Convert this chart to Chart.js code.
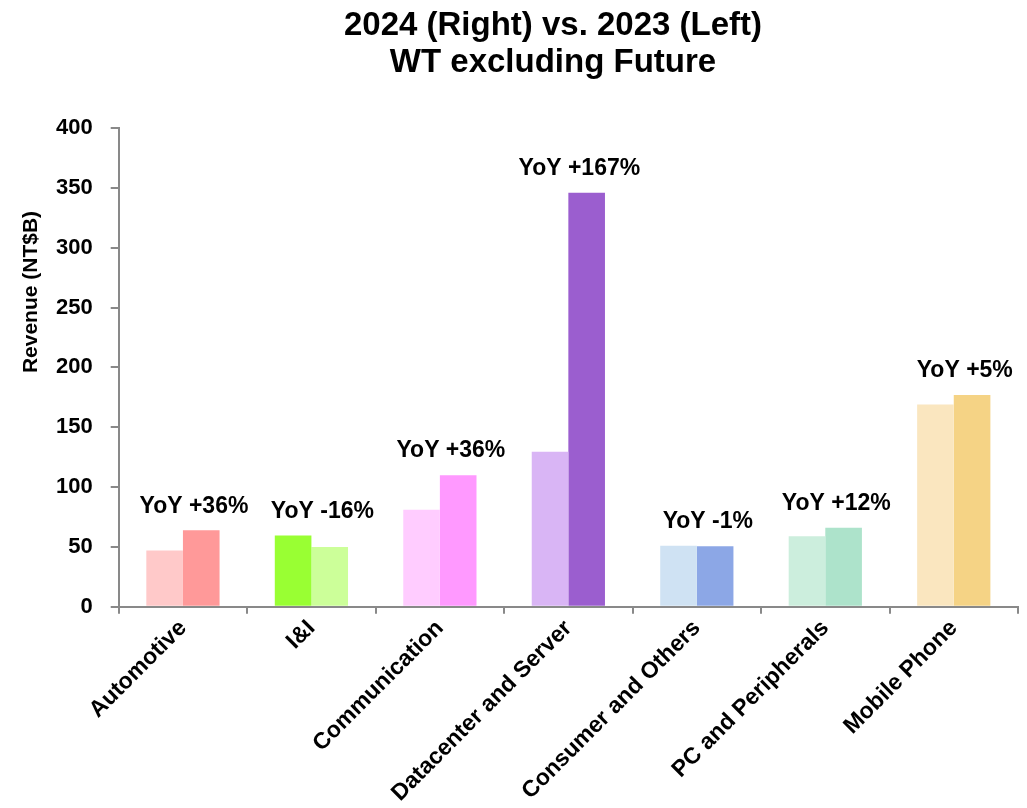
<!DOCTYPE html>
<html>
<head>
<meta charset="utf-8">
<script src="https://cdn.jsdelivr.net/npm/chart.js@4/dist/chart.umd.min.js"></script>
<style>
  body { margin: 0; background: #fff; }
  #wrap { width: 1027px; height: 808px; }
</style>
</head>
<body>
<div id="wrap"><canvas id="revenueChart"></canvas></div>
<script>
const categories = ['Automotive', 'I&I', 'Communication', 'Datacenter and Server',
    'Consumer and Others', 'PC and Peripherals', 'Mobile Phone'];
const revenue2023 = [47, 59.5, 81, 129.5, 51, 59, 169];
const revenue2024 = [64, 50, 110, 346, 50.6, 66, 177];
const yoyLabels = ['YoY +36%', 'YoY -16%', 'YoY +36%', 'YoY +167%', 'YoY -1%', 'YoY +12%', 'YoY +5%'];
const yTicks = [0, 50, 100, 150, 200, 250, 300, 350, 400];
const titleLines = ['2024 (Right) vs. 2023 (Left)', 'WT excluding Future'];
const yAxisTitle = 'Revenue (NT$B)';

// lighter shade = 2023 (left), stronger shade = 2024 (right)
const colors2023 = ['#ffc9c9', '#99ff33', '#ffccff', '#d9b5f5', '#cfe2f3', '#cceedd', '#fae6bf'];
const colors2024 = ['#ff9999', '#ccff99', '#ff99ff', '#9b5ecf', '#8ca7e6', '#ade3cb', '#f5d385'];

const FONT = "'Liberation Sans', Arial, sans-serif";
const AXIS_GREY = '#898989';

// YoY text above the taller bar of each pair
const yoyPlugin = {
    id: 'yoy',
    afterDatasetsDraw(chart) {
        const { ctx } = chart;
        const m0 = chart.getDatasetMeta(0);
        const m1 = chart.getDatasetMeta(1);
        const xScale = chart.scales.x;
        ctx.save();
        ctx.font = 'bold 23px ' + FONT;
        ctx.fillStyle = '#000';
        ctx.textAlign = 'center';
        ctx.textBaseline = 'middle';
        categories.forEach((c, i) => {
            const top = Math.min(m0.data[i].y, m1.data[i].y);
            const x = xScale.getPixelForValue(i) + 11;
            ctx.fillText(yoyLabels[i], x, top - 24);
        });
        ctx.restore();
    }
};

// two-line heading and the rotated y-axis caption
const headingPlugin = {
    id: 'heading',
    afterDraw(chart) {
        const { ctx } = chart;
        ctx.save();
        ctx.fillStyle = '#000';
        ctx.textAlign = 'center';
        ctx.textBaseline = 'middle';
        ctx.font = 'bold 33px ' + FONT;
        ctx.fillText(titleLines[0], 553, 26);
        ctx.fillText(titleLines[1], 553, 63);

        ctx.font = 'bold 21px ' + FONT;
        ctx.translate(31, 292);
        ctx.rotate(-Math.PI / 2);
        ctx.fillText(yAxisTitle, 0, 0);
        ctx.restore();
    }
};

const ctx = document.getElementById('revenueChart').getContext('2d');
new Chart(ctx, {
    type: 'bar',
    data: {
        labels: categories,
        datasets: [{
            label: '2023',
            data: revenue2023,
            backgroundColor: colors2023
        }, {
            label: '2024',
            data: revenue2024,
            backgroundColor: colors2024
        }]
    },
    options: {
        responsive: true,
        maintainAspectRatio: false,
        animation: false,
        categoryPercentage: 0.57,
        barPercentage: 1.0,
        layout: {
            padding: { left: 38, right: 9, top: 128, bottom: 0 }
        },
        plugins: {
            legend: { display: false },
            tooltip: { enabled: false },
            title: { display: false }
        },
        scales: {
            x: {
                grid: {
                    display: true,
                    drawOnChartArea: false,
                    offset: true,
                    color: AXIS_GREY,
                    lineWidth: 2,
                    tickLength: 7
                },
                border: { color: AXIS_GREY, width: 2 },
                ticks: {
                    color: '#000',
                    font: { family: FONT, size: 23, weight: 'bold' },
                    minRotation: 45,
                    maxRotation: 45,
                    padding: 1
                }
            },
            y: {
                min: 0,
                max: 400,
                afterBuildTicks(axis) {
                    axis.ticks = yTicks.map(v => ({ value: v }));
                },
                grid: {
                    display: true,
                    drawOnChartArea: false,
                    color: AXIS_GREY,
                    lineWidth: 2,
                    tickLength: 8
                },
                border: { color: AXIS_GREY, width: 2 },
                ticks: {
                    color: '#000',
                    font: { family: FONT, size: 22, weight: 'bold' },
                    padding: 18
                }
            }
        }
    },
    plugins: [yoyPlugin, headingPlugin]
});
</script>
</body>
</html>
